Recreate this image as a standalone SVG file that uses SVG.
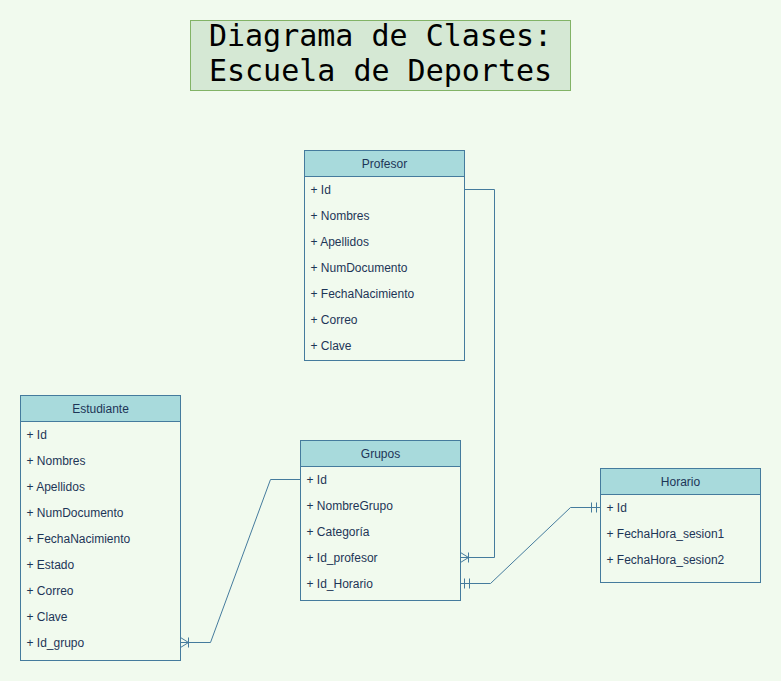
<svg xmlns="http://www.w3.org/2000/svg" width="781" height="681" viewBox="0 0 781 681">
<defs>
<style>
.bg{fill:#F1FAEE}
.title{fill:#d5e8d4;stroke:#82b366;stroke-width:1}
.ttext{font-family:"DejaVu Sans Mono","Liberation Mono",monospace;font-size:30px;fill:#000;text-anchor:middle}
.box{fill:#F1FAEE;stroke:#457B9D;stroke-width:1}
.head{fill:#A8DADC;stroke:#457B9D;stroke-width:1}
.htext{font-family:"Liberation Sans",Arial,sans-serif;font-size:12px;fill:#1D3557;text-anchor:middle}
.rtext{font-family:"Liberation Sans",Arial,sans-serif;font-size:12px;fill:#1D3557}
.edge{fill:none;stroke:#457B9D;stroke-width:1}
.mk{fill:none;stroke:#457B9D;stroke-width:1}
</style>
<marker id="oneToMany" markerUnits="userSpaceOnUse" viewBox="-12 -7 14 14" refX="0" refY="0" markerWidth="14" markerHeight="14" orient="auto-start-reverse" overflow="visible">
<path class="mk" d="M0,-5 L-8,0 L0,5 M-8,-5 L-8,5"/>
</marker>
<marker id="mandOne" markerUnits="userSpaceOnUse" viewBox="-12 -7 14 14" refX="0" refY="0" markerWidth="14" markerHeight="14" orient="auto-start-reverse" overflow="visible">
<path class="mk" d="M-4,-5 L-4,5 M-9,-5 L-9,5"/>
</marker>
</defs>
<rect class="bg" x="0" y="0" width="781" height="681"/>
<g id="title">
<rect class="title" x="190.5" y="20.5" width="380" height="70"/>
<text class="ttext" x="380.5" y="46">Diagrama de Clases:</text>
<text class="ttext" x="380.5" y="81">Escuela de Deportes</text>
</g>
<g id="connectors">
<polyline class="edge" points="464.5,189.5 494.5,189.5 494.5,557.5 460.5,557.5" marker-end="url(#oneToMany)"/>
<polyline class="edge" points="460.5,583.5 490.5,583.5 570.5,507.5 600.5,507.5" marker-start="url(#mandOne)" marker-end="url(#mandOne)"/>
<polyline class="edge" points="300.5,479.5 270.5,479.5 210.5,642.5 180.5,642.5" marker-end="url(#oneToMany)"/>
</g>
<g id="profesor">
<rect class="box" x="304.5" y="150.5" width="160" height="210"/>
<rect class="head" x="304.5" y="150.5" width="160" height="26"/>
<text class="htext" x="384.5" y="167.5">Profesor</text>
<text class="rtext" x="310.5" y="193.5">+ Id</text>
<text class="rtext" x="310.5" y="219.5">+ Nombres</text>
<text class="rtext" x="310.5" y="245.5">+ Apellidos</text>
<text class="rtext" x="310.5" y="271.5">+ NumDocumento</text>
<text class="rtext" x="310.5" y="297.5">+ FechaNacimiento</text>
<text class="rtext" x="310.5" y="323.5">+ Correo</text>
<text class="rtext" x="310.5" y="349.5">+ Clave</text>
</g>
<g id="estudiante">
<rect class="box" x="20.5" y="395.5" width="160" height="265"/>
<rect class="head" x="20.5" y="395.5" width="160" height="26"/>
<text class="htext" x="100.5" y="412.5">Estudiante</text>
<text class="rtext" x="26.5" y="438.5">+ Id</text>
<text class="rtext" x="26.5" y="464.5">+ Nombres</text>
<text class="rtext" x="26.5" y="490.5">+ Apellidos</text>
<text class="rtext" x="26.5" y="516.5">+ NumDocumento</text>
<text class="rtext" x="26.5" y="542.5">+ FechaNacimiento</text>
<text class="rtext" x="26.5" y="568.5">+ Estado</text>
<text class="rtext" x="26.5" y="594.5">+ Correo</text>
<text class="rtext" x="26.5" y="620.5">+ Clave</text>
<text class="rtext" x="26.5" y="646.5">+ Id_grupo</text>
</g>
<g id="grupos">
<rect class="box" x="300.5" y="440.5" width="160" height="160"/>
<rect class="head" x="300.5" y="440.5" width="160" height="26"/>
<text class="htext" x="380.5" y="457.5">Grupos</text>
<text class="rtext" x="306.5" y="483.5">+ Id</text>
<text class="rtext" x="306.5" y="509.5">+ NombreGrupo</text>
<text class="rtext" x="306.5" y="535.5">+ Categoría</text>
<text class="rtext" x="306.5" y="561.5">+ Id_profesor</text>
<text class="rtext" x="306.5" y="587.5">+ Id_Horario</text>
</g>
<g id="horario">
<rect class="box" x="600.5" y="468.5" width="160" height="114"/>
<rect class="head" x="600.5" y="468.5" width="160" height="26"/>
<text class="htext" x="680.5" y="486">Horario</text>
<text class="rtext" x="606.5" y="512">+ Id</text>
<text class="rtext" x="606.5" y="538">+ FechaHora_sesion1</text>
<text class="rtext" x="606.5" y="564">+ FechaHora_sesion2</text>
</g>
</svg>
